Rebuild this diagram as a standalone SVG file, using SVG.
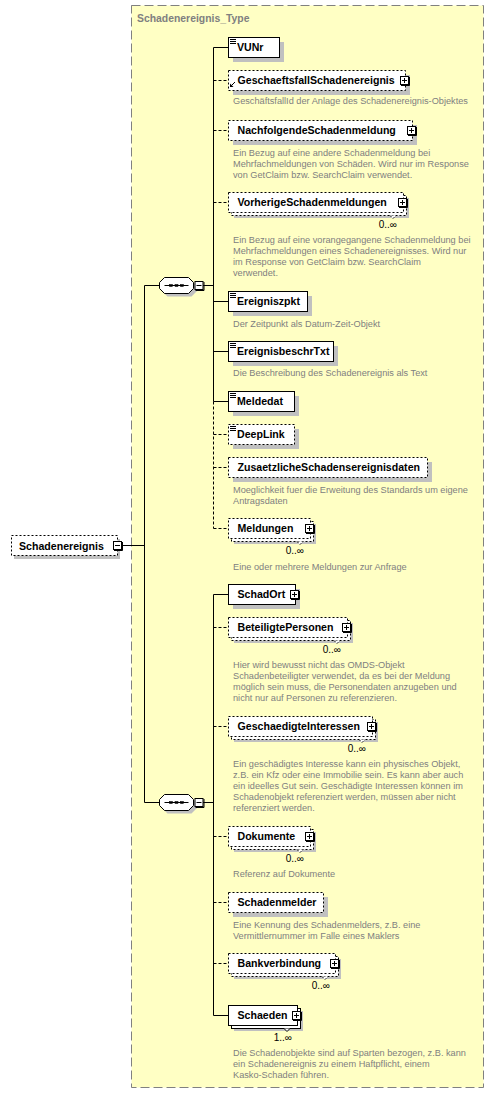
<svg xmlns="http://www.w3.org/2000/svg" width="494" height="1097" viewBox="0 0 494 1097">
<style>
.bg{fill:#fff}
.type{fill:#ffffc4;stroke:#808080;stroke-width:1;stroke-dasharray:9,4}
.ttl{font-family:"Liberation Sans",Arial,sans-serif;font-size:10.4px;font-weight:bold;fill:#808080}
.sh{fill:#c0c0c0}
.bx{fill:#fff;stroke:#000;stroke-width:1}
.opt{stroke-dasharray:2,2}
.nm{font-family:"Liberation Sans",Arial,sans-serif;font-size:10.6px;font-weight:bold;fill:#000}
.ds{font-family:"Liberation Sans",Arial,sans-serif;font-size:9.2px;fill:#808080}
.mu{font-family:"Liberation Sans",Arial,sans-serif;font-size:10px;fill:#000;text-anchor:end}
.ln{stroke:#000;stroke-width:1;fill:none}
.dl{stroke:#000;stroke-width:1;fill:none;stroke-dasharray:3,2}
.ic{stroke:#000;stroke-width:1;fill:none}
</style>
<defs>
<g id="plus">
<rect x="0.5" y="0.5" width="8" height="8" fill="#fff" stroke="#000"/>
<path d="M9.5,1V9.5H1" stroke="#000" fill="none"/>
<path d="M2,4.5h5M4.5,2v5" stroke="#000" fill="none"/>
</g>
<g id="minus">
<rect x="0.5" y="0.5" width="8" height="8" fill="#fff" stroke="#000"/>
<path d="M9.5,1V9.5H1" stroke="#000" fill="none"/>
<path d="M2,4.5h5" stroke="#000" fill="none"/>
</g>
<path id="simple" d="M2,2.5h6M2,4.5h6M2,6.5h6" stroke="#000" fill="none"/>
<g id="seq">
<path d="M8,-5H32L37,0V6L32,11H8L3,6V0Z" fill="#c0c0c0"/>
<path d="M5,-8H29L34,-3V3L29,8H5L0,3V-3Z" fill="#fff" stroke="#000"/>
<path d="M5,0H29" stroke="#000"/>
<rect x="10" y="-1" width="3" height="2" fill="#000" stroke="#000" stroke-width="0.5"/>
<rect x="15.5" y="-1" width="3" height="2" fill="#000" stroke="#000" stroke-width="0.5"/>
<rect x="21" y="-1" width="3" height="2" fill="#000" stroke="#000" stroke-width="0.5"/>
<use href="#minus" x="35" y="-4.5"/>
</g>
</defs>

<rect width="494" height="1097" class="bg"/>

<g id="type-box">
<rect class="type" x="131.5" y="5.5" width="352" height="1082"/>
<text class="ttl" x="137" y="21.5">Schadenereignis_Type</text>
</g>

<g id="connectors">
<path class="ln" d="M122,545.5H144.5M144.5,285.5V802.5M144.5,285.5H159.5M144.5,802.5H159.5"/>
<path class="ln" d="M202.5,285.5H213.5M213.5,47.5V401.5"/>
<path class="dl" d="M213.5,401.5V528.5"/>
<path class="ln" d="M202.5,802.5H213.5M213.5,594.5V1015.5"/>
<path class="ln" d="M213.5,47.5H228.5M213.5,301.5H228.5M213.5,351.5H228.5M213.5,401.5H228.5M213.5,594.5H228.5M213.5,1015.5H228.5"/>
<path class="dl" d="M213.5,80.5H228.5M213.5,130.5H228.5M213.5,202.5H228.5M213.5,434.5H228.5M213.5,467.5H228.5M213.5,528.5H228.5M213.5,627.5H228.5M213.5,726.5H228.5M213.5,836.5H228.5M213.5,902.5H228.5M213.5,963.5H228.5"/>
</g>

<g id="root">
<rect class="sh" x="14" y="539" width="106" height="20"/>
<rect class="bx opt" x="11.5" y="535.5" width="106" height="20"/>
<text class="nm" x="19" y="549.5">Schadenereignis</text>
<use href="#minus" x="113" y="541"/>
</g>

<g id="seq1"><use href="#seq" transform="translate(159.5,285.5)"/></g>
<g id="seq2"><use href="#seq" transform="translate(159.5,802.5)"/></g>

<g id="VUNr">
<rect class="sh" x="233" y="42" width="51" height="20"/>
<rect class="bx" x="228.5" y="37.5" width="51" height="20"/>
<use href="#simple" x="228" y="37"/>
<text class="nm" x="237" y="51">VUNr</text>
</g>

<g id="GeschaeftsfallSchadenereignis">
<rect class="sh" x="233" y="75" width="177" height="20"/>
<rect class="bx opt" x="228.5" y="70.5" width="177" height="20"/>
<path d="M235,82L231.5,85.5" stroke="#000"/>
<path d="M230,87V83.5L233.5,87Z" fill="#000"/>
<text class="nm" x="237.5" y="84">GeschaeftsfallSchadenereignis</text>
<use href="#plus" x="400" y="76"/>
<text class="ds" x="233" y="104">GeschäftsfallId der Anlage des Schadenereignis-Objektes</text>
</g>

<g id="NachfolgendeSchadenmeldung">
<rect class="sh" x="233" y="125" width="184" height="20"/>
<rect class="bx opt" x="228.5" y="120.5" width="184" height="20"/>
<text class="nm" x="237.5" y="134">NachfolgendeSchadenmeldung</text>
<use href="#plus" x="407" y="126"/>
<text class="ds" x="233" y="155.5">Ein Bezug auf eine andere Schadenmeldung bei</text>
<text class="ds" x="233" y="166.5">Mehrfachmeldungen von Schäden. Wird nur im Response</text>
<text class="ds" x="233" y="177.5">von GetClaim bzw. SearchClaim verwendet.</text>
</g>

<g id="VorherigeSchadenmeldungen">
<rect class="sh" x="234" y="198" width="175" height="20"/>
<rect class="bx opt" x="231.5" y="195.5" width="175" height="20"/>
<path class="bx opt" d="M390,215.5L393,218.5L396,215.5"/>
<rect class="bx opt" x="228.5" y="192.5" width="175" height="20"/>
<text class="nm" x="237.5" y="206">VorherigeSchadenmeldungen</text>
<use href="#plus" x="398" y="198"/>
<text class="mu" x="397" y="227.5">0..∞</text>
<text class="ds" x="233" y="242.5">Ein Bezug auf eine vorangegangene Schadenmeldung bei</text>
<text class="ds" x="233" y="253.5">Mehrfachmeldungen eines Schadenereignisses. Wird nur</text>
<text class="ds" x="233" y="264.5">im Response von GetClaim bzw. SearchClaim</text>
<text class="ds" x="233" y="275.5">verwendet.</text>
</g>

<g id="Ereigniszpkt">
<rect class="sh" x="233" y="296" width="79" height="20"/>
<rect class="bx" x="228.5" y="291.5" width="79" height="20"/>
<use href="#simple" x="228" y="291"/>
<text class="nm" x="237" y="305">Ereigniszpkt</text>
<text class="ds" x="233" y="326.5">Der Zeitpunkt als Datum-Zeit-Objekt</text>
</g>

<g id="EreignisbeschrTxt">
<rect class="sh" x="233" y="346" width="105" height="20"/>
<rect class="bx" x="228.5" y="341.5" width="105" height="20"/>
<use href="#simple" x="228" y="341"/>
<text class="nm" x="237" y="355">EreignisbeschrTxt</text>
<text class="ds" x="233" y="375.5">Die Beschreibung des Schadenereignis als Text</text>
</g>

<g id="Meldedat">
<rect class="sh" x="233" y="396" width="66" height="20"/>
<rect class="bx" x="228.5" y="391.5" width="66" height="20"/>
<use href="#simple" x="228" y="391"/>
<text class="nm" x="237" y="405">Meldedat</text>
</g>

<g id="DeepLink">
<rect class="sh" x="233" y="429" width="66" height="20"/>
<rect class="bx opt" x="228.5" y="424.5" width="66" height="20"/>
<use href="#simple" x="228" y="424"/>
<text class="nm" x="237" y="438">DeepLink</text>
</g>

<g id="ZusaetzlicheSchadensereignisdaten">
<rect class="sh" x="233" y="462" width="199" height="20"/>
<rect class="bx opt" x="228.5" y="457.5" width="199" height="20"/>
<text class="nm" x="237.5" y="471">ZusaetzlicheSchadensereignisdaten</text>
<text class="ds" x="233" y="492.5">Moeglichkeit fuer die Erweitung des Standards um eigene</text>
<text class="ds" x="233" y="503.5">Antragsdaten</text>
</g>

<g id="Meldungen">
<rect class="sh" x="234" y="524" width="82" height="20"/>
<rect class="bx opt" x="231.5" y="521.5" width="82" height="20"/>
<path class="bx opt" d="M297,541.5L300,544.5L303,541.5"/>
<rect class="bx opt" x="228.5" y="518.5" width="82" height="20"/>
<text class="nm" x="237.5" y="532">Meldungen</text>
<use href="#plus" x="305" y="524"/>
<text class="mu" x="304" y="553.5">0..∞</text>
<text class="ds" x="233" y="569.5">Eine oder mehrere Meldungen zur Anfrage</text>
</g>

<g id="SchadOrt">
<rect class="sh" x="233" y="589" width="67" height="20"/>
<rect class="bx" x="228.5" y="584.5" width="67" height="20"/>
<text class="nm" x="237.5" y="598">SchadOrt</text>
<use href="#plus" x="290" y="590"/>
</g>

<g id="BeteiligtePersonen">
<rect class="sh" x="234" y="623" width="119" height="20"/>
<rect class="bx opt" x="231.5" y="620.5" width="119" height="20"/>
<path class="bx opt" d="M334,640.5L337,643.5L340,640.5"/>
<rect class="bx opt" x="228.5" y="617.5" width="119" height="20"/>
<text class="nm" x="237.5" y="631">BeteiligtePersonen</text>
<use href="#plus" x="342" y="623"/>
<text class="mu" x="341" y="652.5">0..∞</text>
<text class="ds" x="233" y="667.5">Hier wird bewusst nicht das OMDS-Objekt</text>
<text class="ds" x="233" y="678.5">Schadenbeteiligter verwendet, da es bei der Meldung</text>
<text class="ds" x="233" y="689.5">möglich sein muss, die Personendaten anzugeben und</text>
<text class="ds" x="233" y="700.5">nicht nur auf Personen zu referenzieren.</text>
</g>

<g id="GeschaedigteInteressen">
<rect class="sh" x="234" y="722" width="144" height="20"/>
<rect class="bx opt" x="231.5" y="719.5" width="144" height="20"/>
<path class="bx opt" d="M359,739.5L362,742.5L365,739.5"/>
<rect class="bx opt" x="228.5" y="716.5" width="144" height="20"/>
<text class="nm" x="237.5" y="730">GeschaedigteInteressen</text>
<use href="#plus" x="367" y="722"/>
<text class="mu" x="366" y="751.5">0..∞</text>
<text class="ds" x="233" y="766.5">Ein geschädigtes Interesse kann ein physisches Objekt,</text>
<text class="ds" x="233" y="777.5">z.B. ein Kfz oder eine Immobilie sein. Es kann aber auch</text>
<text class="ds" x="233" y="788.5">ein ideelles Gut sein. Geschädigte Interessen können im</text>
<text class="ds" x="233" y="799.5">Schadenobjekt referenziert werden, müssen aber nicht</text>
<text class="ds" x="233" y="810.5">referenziert werden.</text>
</g>

<g id="Dokumente">
<rect class="sh" x="234" y="832" width="82" height="20"/>
<rect class="bx opt" x="231.5" y="829.5" width="82" height="20"/>
<path class="bx opt" d="M297,849.5L300,852.5L303,849.5"/>
<rect class="bx opt" x="228.5" y="826.5" width="82" height="20"/>
<text class="nm" x="237.5" y="840">Dokumente</text>
<use href="#plus" x="305" y="832"/>
<text class="mu" x="304" y="861.5">0..∞</text>
<text class="ds" x="233" y="876.5">Referenz auf Dokumente</text>
</g>

<g id="Schadenmelder">
<rect class="sh" x="233" y="897" width="95" height="20"/>
<rect class="bx opt" x="228.5" y="892.5" width="95" height="20"/>
<text class="nm" x="237.5" y="906">Schadenmelder</text>
<text class="ds" x="233" y="927.5">Eine Kennung des Schadenmelders, z.B. eine</text>
<text class="ds" x="233" y="938.5">Vermittlernummer im Falle eines Maklers</text>
</g>

<g id="Bankverbindung">
<rect class="sh" x="234" y="959" width="107" height="20"/>
<rect class="bx opt" x="231.5" y="956.5" width="107" height="20"/>
<path class="bx opt" d="M322,976.5L325,979.5L328,976.5"/>
<rect class="bx opt" x="228.5" y="953.5" width="107" height="20"/>
<text class="nm" x="237.5" y="967">Bankverbindung</text>
<use href="#plus" x="330" y="959"/>
<text class="mu" x="330" y="988.5">0..∞</text>
</g>

<g id="Schaeden">
<rect class="sh" x="234" y="1011" width="69" height="20"/>
<rect class="bx" x="231.5" y="1008.5" width="69" height="20"/>
<path class="bx" d="M284,1028.5L287,1031.5L290,1028.5"/>
<rect class="bx" x="228.5" y="1005.5" width="69" height="20"/>
<text class="nm" x="237.5" y="1019">Schaeden</text>
<use href="#plus" x="292" y="1011"/>
<text class="mu" x="292" y="1040.5">1..∞</text>
<text class="ds" x="233" y="1055.5">Die Schadenobjekte sind auf Sparten bezogen, z.B. kann</text>
<text class="ds" x="233" y="1066.5">ein Schadenereignis zu einem Haftpflicht, einem</text>
<text class="ds" x="233" y="1077.5">Kasko-Schaden führen.</text>
</g>
</svg>
